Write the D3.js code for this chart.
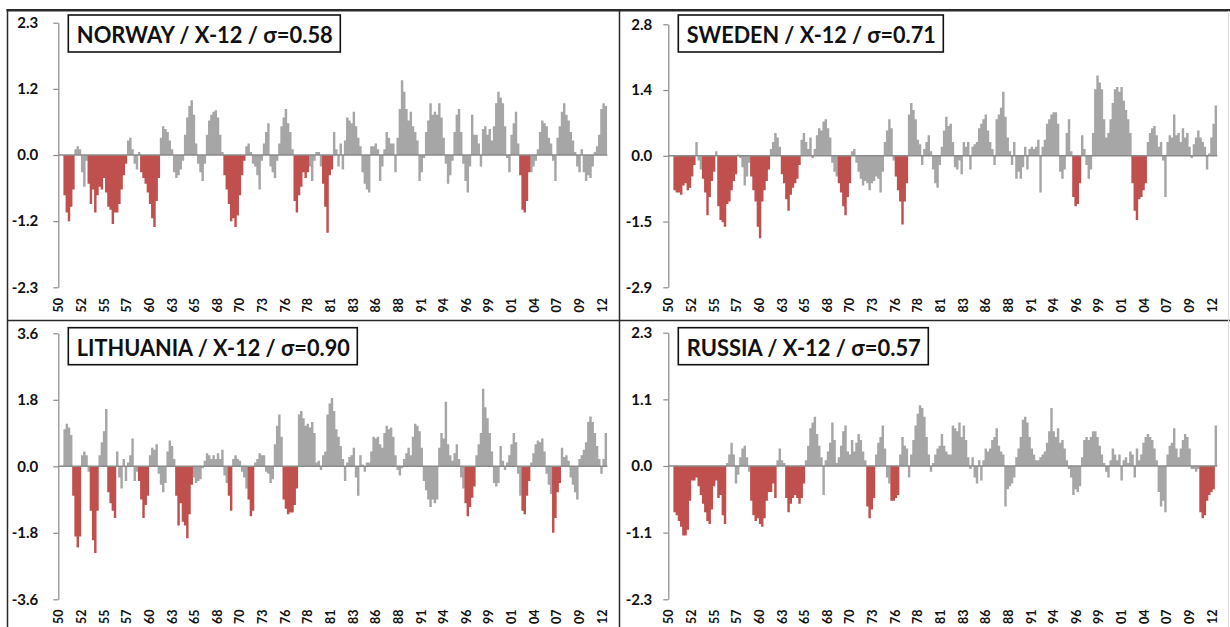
<!DOCTYPE html>
<html><head><meta charset="utf-8">
<script src="https://cdn.jsdelivr.net/npm/d3@7"></script>
<style>
html,body{margin:0;padding:0;background:#fff;}
svg{display:block;}
text{font-family:Lato,"Open Sans","DejaVu Sans",sans-serif;font-weight:700;fill:#111;}
</style></head><body>
<svg id="c" width="1230" height="627"></svg>
<script>
// ---------------- DATA ----------------
// quarterly values, first quarter = 1950 Q4
const startYear = 1950.75;

const norway = [
-0.7,-1.0,-1.15,-0.9,-0.6,0.1,0.15,0.1,-0.3,-0.55,
-0.1,-0.5,-0.85,-0.6,-1.0,-0.7,-0.55,-0.6,-0.4,-0.65,
-0.9,-0.95,-1.2,-1.0,-1.0,-0.85,-0.6,-0.35,-0.15,0.25,
0.3,0.1,-0.15,-0.25,0.05,-0.3,-0.4,-0.5,-0.65,-0.85,
-1.1,-1.25,-0.8,-0.4,0.3,0.5,0.45,0.4,0.25,0.1,
-0.3,-0.4,-0.35,-0.25,-0.1,0.35,0.65,0.85,0.95,0.7,
0.2,-0.15,-0.3,-0.45,-0.15,0.35,0.6,0.7,0.75,0.78,
0.65,0.35,0.05,-0.35,-0.6,-0.85,-1.15,-1.1,-1.25,-1.05,
-0.7,-0.35,-0.1,0.15,0.2,0.05,-0.15,-0.2,-0.35,-0.6,
-0.1,0.2,0.4,0.55,-0.2,-0.3,-0.4,-0.1,0.2,0.5,
0.65,0.8,0.55,0.4,0.1,-0.8,-1.0,-0.7,-0.55,-0.3,
-0.4,-0.3,-0.2,-0.45,-0.1,0.05,0.05,-0.2,-0.5,-0.9,
-1.35,-0.35,-0.25,0.4,0.1,-0.2,0.2,-0.25,0.25,0.65,
0.6,0.55,0.75,0.5,0.3,0.15,-0.3,-0.5,-0.6,-0.65,
0.15,0.15,0.2,0.1,-0.45,-0.2,0.1,0.4,0.3,0.2,
0.2,-0.3,0.3,0.8,1.3,1.1,0.8,0.6,0.75,0.5,
0.4,0.25,-0.45,-0.3,-0.05,0.4,0.6,0.9,0.7,0.75,
0.7,0.9,0.65,0.3,-0.15,-0.5,-0.35,-0.1,0.4,0.7,
0.8,0.4,-0.15,-0.45,-0.65,-0.2,0.7,0.35,0.35,0.2,
-0.2,0.45,0.5,0.35,0.45,0.25,0.5,0.9,1.1,1.0,
0.9,0.5,-0.05,-0.3,0.35,0.55,0.75,0.2,-0.35,-0.95,
-1.0,-0.8,-0.3,-0.3,-0.2,-0.1,0.1,0.4,0.6,0.55,
0.5,0.3,0.2,-0.1,-0.45,0.3,0.5,0.75,0.9,0.7,
0.6,0.4,0.25,0.05,-0.2,-0.3,0.1,-0.3,-0.45,-0.35,
-0.4,-0.2,0.05,0.15,0.35,0.8,0.9,0.85
];
const sweden = [
-0.75,-0.8,-0.8,-0.85,-0.65,-0.6,-0.75,-0.7,-0.45,-0.2,
0.3,-0.1,-0.3,-0.5,-0.8,-1.3,-0.9,-0.55,-0.35,0.1,
-1.1,-1.4,-1.45,-1.55,-1.05,-1.0,-0.75,-0.55,-0.4,0.03,
-0.05,-0.25,-0.65,-0.45,-0.15,-0.45,-0.75,-1.0,-1.55,-1.8,
-1.0,-0.75,-0.55,-0.3,0.15,0.3,0.5,0.4,0.2,-0.4,
-0.6,-0.95,-1.2,-0.85,-0.7,-0.6,-0.5,-0.2,0.35,0.5,
0.3,0.15,0.4,-0.05,0.15,0.45,0.6,0.55,0.75,0.8,
0.6,0.4,-0.15,-0.35,-0.45,-0.6,-0.8,-1.1,-1.3,-0.9,
-0.6,0.1,0.15,-0.15,-0.35,-0.5,-0.65,-0.55,-0.6,-0.75,
-0.6,-0.55,-0.45,-0.5,-0.8,-0.35,0.3,0.55,0.8,0.6,
-0.1,-0.45,-0.75,-1.0,-1.5,-1.0,-0.6,0.9,1.15,1.0,
0.8,0.35,0.25,-0.2,0.15,0.3,0.45,0.1,-0.3,-0.6,
-0.7,-0.2,0.2,0.55,0.85,0.65,0.7,0.3,-0.25,-0.3,
-0.1,-0.4,0.3,0.2,0.3,-0.3,0.2,0.25,0.3,0.6,
0.7,0.8,0.9,0.55,0.3,0.15,-0.2,0.8,0.9,1.05,
1.4,0.85,0.4,0.1,-0.2,0.3,-0.5,-0.35,-0.5,-0.25,
0.2,-0.3,0.15,0.2,0.15,0.2,0.35,-0.8,0.2,0.35,
0.7,0.8,0.9,0.95,0.95,0.7,-0.35,-0.5,-0.3,0.5,
0.8,0.1,-0.9,-1.1,-1.05,-0.6,0.45,0.15,-0.2,-0.5,
-0.3,0.5,1.45,1.75,1.6,1.45,0.8,0.4,0.5,0.8,
1.15,1.45,1.5,1.4,1.5,1.2,1.0,0.8,0.5,-0.6,
-1.2,-1.4,-0.95,-0.9,-0.75,-0.6,0.3,0.5,0.6,0.65,
0.45,0.2,0.3,-0.1,-0.9,0.3,0.45,0.4,0.9,0.45,
0.5,0.3,0.6,0.4,0.5,0.2,-0.05,0.25,0.4,0.55,
0.4,0.3,0.2,-0.3,0.05,0.4,0.7,1.1
];
const lithuania = [
1.0,1.15,1.05,0.85,-0.8,-1.9,-2.2,-1.9,0.3,0.4,
0.3,-0.15,-1.2,-2.0,-2.35,-1.2,0.3,0.65,0.95,1.55,
-0.7,-1.0,-1.2,-1.4,0.4,-0.3,-0.6,0.2,-0.4,0.1,
0.3,0.75,-0.4,-0.15,-0.4,-0.9,-1.4,-1.05,-0.8,0.3,
0.5,0.45,0.6,-0.2,-0.5,-0.7,-0.45,0.4,0.7,0.55,
0.2,-0.8,-1.6,-1.0,-1.5,-1.6,-1.95,-1.3,-0.5,-0.3,
-0.45,-0.4,-0.35,-0.05,0.15,0.35,0.3,0.2,0.3,0.2,
0.35,0.2,0.45,-0.25,-0.45,-0.8,-1.2,0.2,0.3,0.2,
0.15,-0.15,-0.3,-0.6,-0.9,-1.35,-1.2,0.1,0.2,0.35,
0.3,0.3,-0.15,-0.2,-0.45,-0.35,0.6,1.1,1.4,0.8,
-0.9,-1.15,-1.3,-1.25,-1.25,-1.05,-0.6,1.4,1.5,1.3,
1.1,1.15,1.05,1.2,0.9,0.1,0.15,-0.1,0.3,0.4,
1.4,1.7,1.85,1.5,1.0,0.8,0.55,0.2,-0.4,0.1,
0.25,0.3,0.5,-0.3,-0.8,0.3,0.05,-0.15,0.1,0.1,
0.4,0.8,0.75,0.8,0.6,0.5,0.9,1.1,1.0,1.05,
0.8,0.3,-0.1,-0.25,-0.05,0.2,0.35,0.5,0.3,0.8,
1.15,1.1,0.95,0.5,-0.4,-0.65,-0.9,-1.1,-0.9,-1.0,
-0.9,0.5,0.9,0.75,1.75,0.6,0.3,0.15,0.35,0.6,
0.2,-0.3,-0.6,-1.0,-1.35,-1.1,-0.85,-0.55,0.3,0.6,
0.9,2.1,1.6,1.3,0.9,0.4,-0.45,-0.55,-0.45,0.55,
0.15,-0.1,0.1,0.3,0.6,0.9,0.65,-0.2,-0.8,-1.2,
-1.3,-0.8,-0.4,0.1,0.35,0.6,0.7,0.65,0.75,0.4,
-0.2,-0.5,-0.75,-1.8,-1.4,-0.7,-0.45,0.5,0.25,0.3,
0.15,-0.3,-0.5,-0.7,-0.9,0.2,0.3,0.45,0.65,1.2,
1.35,1.2,0.9,0.55,0.2,-0.2,0.2,0.9
];
const russia = [
-0.8,-0.85,-0.95,-1.05,-1.2,-1.2,-1.1,-0.6,-0.25,-0.25,
-0.2,-0.35,-0.5,-0.65,-0.8,-0.95,-1.0,-0.75,-0.35,-0.25,
-0.55,-0.5,-0.85,-1.0,0.05,0.2,0.4,0.2,-0.3,-0.15,
0.15,0.3,0.35,0.15,-0.1,-0.6,-0.85,-0.95,-0.9,-1.0,
-1.05,-0.9,-0.6,-0.45,-0.45,-0.3,-0.55,0.1,0.3,0.1,
0.05,-0.55,-0.8,-0.65,-0.55,-0.5,-0.55,-0.65,-0.55,-0.3,
0.1,0.35,0.65,0.75,0.85,0.55,0.35,0.15,-0.5,0.1,
0.25,0.4,0.75,0.45,0.05,0.15,0.35,0.6,0.7,0.25,
0.2,0.45,0.25,0.4,0.55,0.45,0.25,0.1,-0.7,-0.9,
-0.75,-0.55,0.2,0.4,0.5,0.7,0.3,-0.2,-0.3,-0.6,
-0.6,-0.55,-0.5,0.2,0.5,0.35,0.3,-0.2,0.2,0.45,
0.7,0.9,1.05,1.0,0.85,0.5,0.2,-0.1,0.05,0.2,
0.3,0.35,0.55,0.35,0.25,0.2,0.2,0.7,0.65,0.6,
0.75,0.5,0.7,0.45,0.15,-0.05,0.15,-0.2,-0.3,0.1,
-0.25,0.1,0.3,0.25,0.3,0.45,0.5,0.65,0.35,0.25,
0.2,-0.7,-0.4,-0.35,-0.3,-0.2,0.15,0.3,0.5,0.8,
0.85,0.75,0.5,0.3,0.2,0.1,0.1,0.15,0.2,0.25,
0.4,0.6,1.0,0.6,0.5,0.65,0.4,0.45,0.3,0.1,
-0.05,-0.2,-0.5,-0.4,-0.45,-0.35,0.15,0.45,0.5,0.45,
0.5,0.6,0.6,0.5,0.35,0.2,0.05,-0.1,-0.2,0.1,
0.3,0.2,0.1,0.2,-0.25,0.1,0.15,0.05,0.25,0.2,
-0.2,0.3,0.1,0.2,0.4,0.5,0.55,0.5,0.45,0.3,
0.1,-0.45,-0.7,-0.6,-0.8,0.2,0.35,0.4,0.65,0.3,
0.15,0.3,0.45,0.55,0.5,0.3,-0.05,-0.05,-0.1,-0.05,
-0.8,-0.9,-0.85,-0.6,-0.5,-0.45,-0.4,0.7
];

// highlighted (red) periods: [start, end) in decimal years
const norwayRed = [[1950.75,1952.0],[1953.5,1958.0],[1959.5,1961.75],[1969.0,1971.5],[1977.0,1978.75],[1980.25,1981.5],[2002.75,2004.0]];
const swedenRed = [[1950.75,1953.25],[1954.0,1955.5],[1955.75,1958.0],[1959.5,1961.75],[1963.0,1965.25],[1969.5,1971.0],[1976.0,1977.5],[1996.25,1997.25],[2003.0,2004.75]];
const lithuaniaRed = [[1951.75,1952.75],[1953.75,1954.75],[1955.75,1956.75],[1959.25,1960.5],[1963.5,1965.5],[1969.5,1970.0],[1971.75,1972.5],[1975.75,1977.5],[1996.5,1997.75],[2003.0,2004.0],[2006.5,2007.5]];
const russiaRed = [[1950.75,1956.75],[1959.5,1962.5],[1963.5,1965.75],[1972.75,1973.75],[1975.5,1976.5],[2010.75,2012.5]];

const titles = ["NORWAY / X-12 / σ=0.58","SWEDEN / X-12 / σ=0.71","LITHUANIA / X-12 / σ=0.90","RUSSIA / X-12 / σ=0.57"];
const yMax = [2.3, 2.87, 3.6, 2.3];
const yTickLabels = [
  ["-2.3","-1.2","0.0","1.2","2.3"],
  ["-2.9","-1.5","0.0","1.4","2.8"],
  ["-3.6","-1.8","0.0","1.8","3.6"],
  ["-2.3","-1.1","0.0","1.1","2.3"]
];
const xTickLabels = ["50","52","55","57","60","63","65","68","70","73","76","78","81","83","86","88","91","94","96","99","01","04","07","09","12"];
const firstLabelYear = 1950 + 2/12;   // category of the first label
const labelStepYears = 31/12;          // one label every 31 months

// ---------------- LAYOUT ----------------
const RED = "#c0504d", GRAY = "#a6a6a6", AXIS = "#8a8a8a";
const panels = [
  {data: norway,    red: norwayRed,    ox: 58.3,  top: 22.7,  bottom: 287.3, pad: 15, boxY: 15,    boxW: 272, xlabY: 298},
  {data: sweden,    red: swedenRed,    ox: 668.3, top: 24.3,  bottom: 287.3, pad: 11, boxY: 15,    boxW: 265, xlabY: 298},
  {data: lithuania, red: lithuaniaRed, ox: 58.3,  top: 333.3, bottom: 599.3, pad: 15, boxY: 327.7, boxW: 289, xlabY: 609.5},
  {data: russia,    red: russiaRed,    ox: 668.3, top: 332.7, bottom: 599.3, pad: 11, boxY: 327.7, boxW: 250, xlabY: 609.5}
];

const svg = d3.select("#c");

panels.forEach((p, pi) => {
  const g = svg.append("g");
  const lastLabelYear = firstLabelYear + (xTickLabels.length - 1) * labelStepYears;
  const x = d3.scaleLinear().domain([firstLabelYear, lastLabelYear]).range([p.ox, p.ox + 543.4]);
  const M = yMax[pi];
  const y = d3.scaleLinear().domain([-M, M]).range([p.bottom, p.top]);
  const tq = i => startYear + i / 4;
  const isRed = t => p.red.some(([s, e]) => t >= s - 1e-6 && t < e - 1e-6);

  // bars: one merged path per colour so neighbouring bars form a solid mass
  const y0 = y(0);
  [false, true].forEach(redFlag => {
    const path = d3.path();
    p.data.forEach((v, i) => {
      if (isRed(tq(i)) !== redFlag || v === 0) return;
      const xa = x(tq(i)), xb = x(tq(i + 1)) + 0.25, yv = y(v);
      path.moveTo(xa, y0);
      path.lineTo(xa, yv);
      path.lineTo(xb, yv);
      path.lineTo(xb, y0);
      path.closePath();
    });
    g.append("path").attr("d", path.toString())
      .attr("fill", redFlag ? RED : GRAY)
      .attr("fill-rule", "nonzero");
  });

  // zero line
  g.append("line")
    .attr("x1", p.ox).attr("x2", x(tq(p.data.length)) + 0.5)
    .attr("y1", y0).attr("y2", y0)
    .attr("stroke", AXIS).attr("stroke-width", 1.6);

  // y axis
  const ticks = [-M, -M / 2, 0, M / 2, M];
  const ay = d3.axisLeft(y).tickValues(ticks)
    .tickFormat((d, i) => yTickLabels[pi][i])
    .tickSize(5).tickSizeOuter(0).tickPadding(p.pad);
  const gy = g.append("g").attr("transform", `translate(${p.ox},0)`).call(ay);
  gy.attr("font-family", null).attr("font-size", null);
  gy.select(".domain").attr("stroke", AXIS).attr("stroke-width", 1.2);
  gy.selectAll(".tick line").attr("stroke", AXIS).attr("stroke-width", 1.2);
  gy.selectAll(".tick text").style("font-size", "15px").attr("fill", "#111");

  // x axis labels (rotated)
  const tickYears = xTickLabels.map((_, i) => firstLabelYear + i * labelStepYears);
  const ax = d3.axisBottom(x).tickValues(tickYears)
    .tickFormat((d, i) => xTickLabels[i]).tickSize(0);
  const gx = g.append("g").attr("transform", `translate(0,${p.xlabY})`).call(ax);
  gx.attr("font-family", null).attr("font-size", null);
  gx.select(".domain").remove();
  gx.selectAll(".tick text")
    .attr("transform", "rotate(-90)")
    .attr("x", 0).attr("y", 0).attr("dy", "0.36em")
    .attr("text-anchor", "end")
    .attr("fill", "#111")
    .style("font-size", "12.5px");

  // title box
  const bx = p.ox + 10;
  g.append("rect").attr("x", bx).attr("y", p.boxY).attr("width", p.boxW).attr("height", 37)
    .attr("fill", "#fff").attr("stroke", "#111").attr("stroke-width", 1.6);
  g.append("text").attr("x", bx + 8.5).attr("y", p.boxY + 28)
    .attr("textLength", p.boxW - 16).attr("lengthAdjust", "spacingAndGlyphs")
    .style("font-size", "23px").attr("fill", "#000")
    .text(titles[pi]);
});

// frame lines
const frame = svg.append("g").attr("stroke", "#2a2a2a");
frame.append("line").attr("x1", 6.5).attr("x2", 1230).attr("y1", 10.3).attr("y2", 10.3).attr("stroke-width", 2.6);
frame.append("line").attr("x1", 7.5).attr("x2", 7.5).attr("y1", 9).attr("y2", 627).attr("stroke-width", 1.5);
frame.append("line").attr("x1", 619.5).attr("x2", 619.5).attr("y1", 9).attr("y2", 627).attr("stroke-width", 1.5);
frame.append("line").attr("x1", 7).attr("x2", 1230).attr("y1", 320.5).attr("y2", 320.5).attr("stroke-width", 1.5);
frame.append("line").attr("x1", 1228.5).attr("x2", 1228.5).attr("y1", 11).attr("y2", 627).attr("stroke", "#dcdcdc").attr("stroke-width", 1);
</script>
</body></html>
